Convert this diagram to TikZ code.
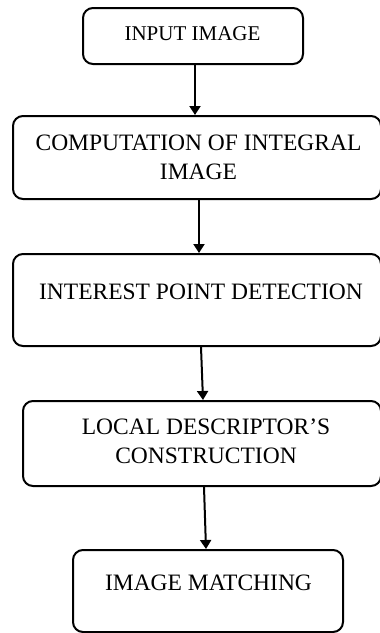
\documentclass[tikz,border=0pt]{standalone}
\usepackage{fontspec}
\setmainfont{Liberation Serif}
\usetikzlibrary{arrows.meta}
\begin{document}
\begin{tikzpicture}[x=1pt,y=-1pt,
  box/.style={draw, line width=2pt, rounded corners=10pt, inner sep=0pt},
  lbl/.style={font=\fontsize{23.5}{29}\selectfont, align=center, inner sep=0pt},
  arr/.style={line width=2pt, -{Triangle[length=9pt,width=11pt]}}]
\useasboundingbox (0,0) rectangle (380,633);
\clip (0,0) rectangle (380,633);
\node[box, minimum width=220pt, minimum height=56pt] (b1) at (193,36) {};
\node[box, minimum width=368pt, minimum height=83pt] (b2) at (197,157.5) {};
\node[box, minimum width=368pt, minimum height=92pt] (b3) at (197,300) {};
\node[box, minimum width=358pt, minimum height=85pt] (b4) at (202,443.5) {};
\node[box, minimum width=270pt, minimum height=82pt] (b5) at (208,591) {};
\node[lbl, font=\fontsize{21}{29}\selectfont] (t1) at (192.5,33.5) {INPUT IMAGE};
\node[lbl] (t2) at (198.5,157.5) {COMPUTATION OF INTEGRAL\\IMAGE};
\node[lbl] (t3) at (201,292) {INTEREST POINT DETECTION};
\node[lbl] (t4) at (206,441) {LOCAL DESCRIPTOR’S\\CONSTRUCTION};
\node[lbl] (t5) at (208.5,583) {IMAGE MATCHING};
\draw[arr] ([xshift=2pt]b1.south) -- ([xshift=-2pt]b2.north);
\draw[arr] ([xshift=2pt]b2.south) -- ([xshift=2pt]b3.north);
\draw[arr] ([xshift=4pt]b3.south) -- ([xshift=1pt]b4.north);
\draw[arr] ([xshift=2pt]b4.south) -- ([xshift=-2pt]b5.north);
\end{tikzpicture}
\end{document}
